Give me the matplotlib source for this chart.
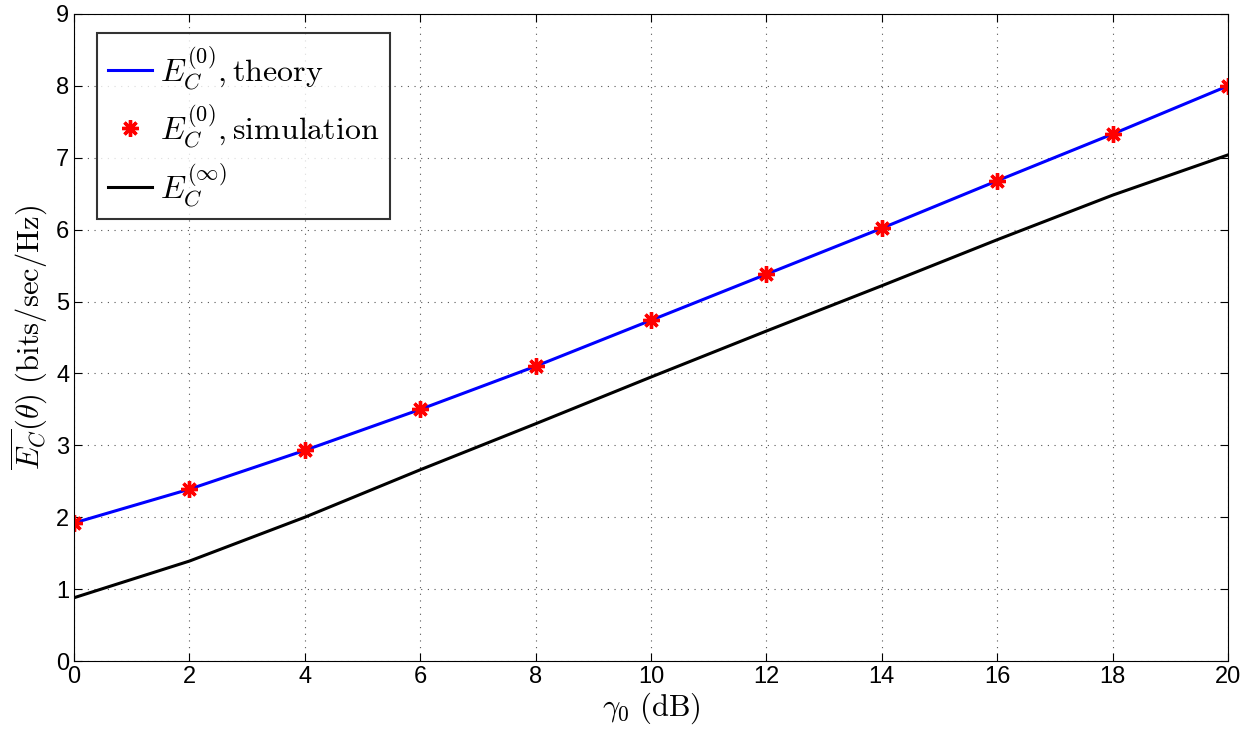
import numpy as np
import matplotlib.pyplot as plt

plt.rcParams['mathtext.fontset'] = 'cm'
plt.rcParams['font.family'] = ['Liberation Sans', 'DejaVu Sans']

# data
gamma0 = [0, 2, 4, 6, 8, 10, 12, 14, 16, 18, 20]
ec0_theory = [1.92, 2.39, 2.93, 3.50, 4.10, 4.74, 5.38, 6.02, 6.68, 7.33, 8.00]
ec0_sim = [1.92, 2.39, 2.93, 3.50, 4.10, 4.74, 5.38, 6.02, 6.68, 7.33, 8.00]
ec_inf = [0.88, 1.39, 2.00, 2.66, 3.30, 3.95, 4.59, 5.22, 5.86, 6.48, 7.04]

fig = plt.figure(figsize=(12.59, 7.36), dpi=100)
ax = fig.add_axes([0.0588, 0.1019, 0.9166, 0.8791])

ax.plot(gamma0, ec0_theory, color='#0000ff', lw=2.2, label=r'$E_C^{(0)}, \mathrm{theory}$')
ax.plot(gamma0, ec0_sim, ls='none', marker=(8, 2, 0), ms=12, mew=2.4, color='#ff0000',
        label=r'$E_C^{(0)}, \mathrm{simulation}$')
ax.plot(gamma0, ec_inf, color='black', lw=2.2, label=r'$E_C^{(\infty)}$')

ax.set_xlim(0, 20)
ax.set_ylim(0, 9)
ax.set_xticks(range(0, 21, 2))
ax.set_yticks(range(0, 10))
ax.tick_params(direction='in', labelsize=17, length=6, top=True, right=True)
ax.grid(True, ls=(0, (1, 5)), color='#555555', lw=0.8)
for s in ax.spines.values():
    s.set_linewidth(0.8)

ax.set_xlabel(r'$\gamma_0\ \mathrm{(dB)}$', fontsize=22, labelpad=2)
ax.set_ylabel(r'$\overline{E_C}(\theta)\ \mathrm{(bits/sec/Hz)}$', fontsize=22, labelpad=4)

leg = ax.legend(loc='upper left', fontsize=23, frameon=True, fancybox=False,
                edgecolor='black', borderpad=0.33, labelspacing=0.33, handlelength=1.4,
                handletextpad=0.25, borderaxespad=0, bbox_to_anchor=(0.02, 0.97))
leg.get_frame().set_linewidth(1.5)

fig.savefig('out.png', dpi=100)
